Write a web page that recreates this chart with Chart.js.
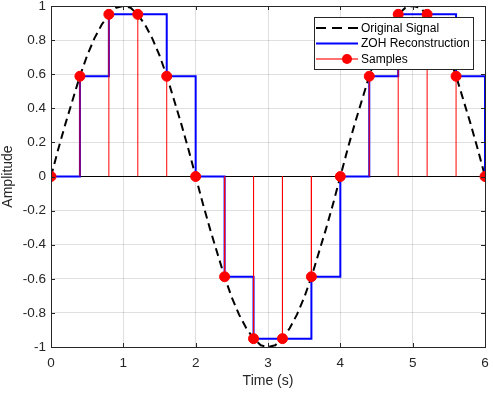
<!DOCTYPE html>
<html>
<head>
<meta charset="utf-8">
<script src="https://cdn.jsdelivr.net/npm/chart.js@4/dist/chart.umd.min.js"></script>
<style>
  html, body { margin: 0; padding: 0; background: #fff; }
  #wrap { position: relative; width: 493px; height: 393px; }
</style>
</head>
<body>
<div id="wrap"><canvas id="zohChart" width="493" height="393"></canvas></div>
<script>
// Continuous signal, every 0.1 s
const signalTimes = [
  0.0, 0.1, 0.2, 0.3, 0.4, 0.5, 0.6, 0.7, 0.8, 0.9,
  1.0, 1.1, 1.2, 1.3, 1.4, 1.5, 1.6, 1.7, 1.8, 1.9,
  2.0, 2.1, 2.2, 2.3, 2.4, 2.5, 2.6, 2.7, 2.8, 2.9,
  3.0, 3.1, 3.2, 3.3, 3.4, 3.5, 3.6, 3.7, 3.8, 3.9,
  4.0, 4.1, 4.2, 4.3, 4.4, 4.5, 4.6, 4.7, 4.8, 4.9,
  5.0, 5.1, 5.2, 5.3, 5.4, 5.5, 5.6, 5.7, 5.8, 5.9, 6.0
];
const signalValues = [
  0, 0.16, 0.31, 0.45, 0.59, 0.71, 0.81, 0.89, 0.95, 0.99,
  1, 0.99, 0.95, 0.89, 0.81, 0.71, 0.59, 0.45, 0.31, 0.16,
  0, -0.16, -0.31, -0.45, -0.59, -0.71, -0.81, -0.89, -0.95, -0.99,
  -1, -0.99, -0.95, -0.89, -0.81, -0.71, -0.59, -0.45, -0.31, -0.16,
  0, 0.16, 0.31, 0.45, 0.59, 0.71, 0.81, 0.89, 0.95, 0.99,
  1, 0.99, 0.95, 0.89, 0.81, 0.71, 0.59, 0.45, 0.31, 0.16, 0
];

// Samples (red stems / dots), also used for the ZOH stairs
const sampleTimes  = [0, 0.4, 0.8, 1.2, 1.6, 2.0, 2.4, 2.8, 3.2, 3.6, 4.0, 4.4, 4.8, 5.2, 5.6, 6.0];
const sampleValues = [0, 0.588, 0.951, 0.951, 0.588, 0, -0.588, -0.951, -0.951, -0.588, 0, 0.588, 0.951, 0.951, 0.588, 0];

const xTicks = [0, 1, 2, 3, 4, 5, 6];
const yTicks = [-1, -0.8, -0.6, -0.4, -0.2, 0, 0.2, 0.4, 0.6, 0.8, 1];
const seriesNames = ['Original Signal', 'ZOH Reconstruction', 'Samples'];

const AXIS_COLOR = '#262626';
const FONT = '"Liberation Sans", Arial, Helvetica, sans-serif';

const signalPoints = signalTimes.map((t, i) => ({ x: t, y: signalValues[i] }));
const samplePoints = sampleTimes.map((t, i) => ({ x: t, y: sampleValues[i] }));
const stemPoints = [];
sampleTimes.forEach((t, i) => {
  stemPoints.push({ x: t, y: 0 }, { x: t, y: sampleValues[i] }, { x: t, y: null });
});

// Box, inward tick marks and the MATLAB-style legend
const matlabFrame = {
  id: 'matlabFrame',
  afterDatasetsDraw(chart) {
    const ctx = chart.ctx;
    const a = chart.chartArea;
    const xs = chart.scales.x, ys = chart.scales.y;
    ctx.save();
    ctx.strokeStyle = AXIS_COLOR;
    ctx.lineWidth = 1;
    ctx.beginPath();
    xTicks.forEach(v => {
      const px = Math.round(xs.getPixelForValue(v)) + 0.5;
      ctx.moveTo(px, a.bottom); ctx.lineTo(px, a.bottom - 4);
      ctx.moveTo(px, a.top); ctx.lineTo(px, a.top + 4);
    });
    yTicks.forEach(v => {
      const py = Math.round(ys.getPixelForValue(v)) + 0.5;
      ctx.moveTo(a.left, py); ctx.lineTo(a.left + 4, py);
      ctx.moveTo(a.right, py); ctx.lineTo(a.right - 4, py);
    });
    ctx.stroke();
    ctx.strokeRect(Math.round(a.left) + 0.5, Math.round(a.top) + 0.5,
                   Math.round(a.right - a.left), Math.round(a.bottom - a.top));

    // legend
    const lx = a.right - 171, ly = a.top + 11, lw = 159, lh = 52;
    ctx.fillStyle = '#fff';
    ctx.fillRect(lx, ly, lw, lh);
    ctx.strokeStyle = AXIS_COLOR;
    ctx.strokeRect(lx + 0.5, ly + 0.5, lw, lh);
    const rows = [ly + 11, ly + 26.5, ly + 42];
    const x1 = lx + 2, x2 = lx + 44;
    ctx.lineWidth = 2;
    // original signal
    ctx.strokeStyle = '#000';
    ctx.setLineDash([10, 6]);
    ctx.beginPath(); ctx.moveTo(x1, rows[0]); ctx.lineTo(x2, rows[0]); ctx.stroke();
    ctx.setLineDash([]);
    // zoh
    ctx.strokeStyle = '#0000ff';
    ctx.beginPath(); ctx.moveTo(x1, rows[1]); ctx.lineTo(x2, rows[1]); ctx.stroke();
    // samples
    ctx.strokeStyle = '#ff7070';
    ctx.beginPath(); ctx.moveTo(x1, rows[2]); ctx.lineTo(x2, rows[2]); ctx.stroke();
    ctx.fillStyle = '#ff0000';
    ctx.beginPath(); ctx.arc(lx + 33, rows[2], 5, 0, Math.PI * 2); ctx.fill();
    // text
    ctx.fillStyle = '#000';
    ctx.font = '12px ' + FONT;
    ctx.textBaseline = 'middle';
    ctx.textAlign = 'left';
    seriesNames.forEach((name, i) => ctx.fillText(name, lx + 47, rows[i] + 0.5));
    ctx.restore();
  }
};

new Chart(document.getElementById('zohChart'), {
  type: 'line',
  data: {
    datasets: [
      {
        label: seriesNames[2],
        data: samplePoints,
        showLine: false,
        pointRadius: 5,
        pointHoverRadius: 5,
        pointBackgroundColor: '#ff0000',
        pointBorderColor: '#ff0000',
        pointBorderWidth: 1,
        order: 0
      },
      {
        label: 'stems',
        data: stemPoints,
        borderColor: '#ff0000',
        borderWidth: 1,
        pointRadius: 0,
        spanGaps: false,
        order: 1
      },
      {
        label: seriesNames[1],
        data: samplePoints,
        stepped: 'before',
        borderColor: '#0000ff',
        borderWidth: 2,
        pointRadius: 0,
        order: 2
      },
      {
        label: seriesNames[0],
        data: signalPoints,
        borderColor: '#000000',
        borderWidth: 2,
        borderDash: [8, 5],
        pointRadius: 0,
        tension: 0,
        order: 3
      }
    ]
  },
  options: {
    responsive: false,
    animation: false,
    events: [],
    layout: { padding: { top: 5, right: 8, left: 0, bottom: 0 } },
    plugins: {
      legend: { display: false },
      tooltip: { enabled: false }
    },
    scales: {
      x: {
        type: 'linear',
        min: 0,
        max: 6,
        afterBuildTicks: scale => { scale.ticks = xTicks.map(v => ({ value: v })); },
        afterFit: scale => {
          scale.height = 46;
          scale.paddingLeft = 0;
          scale.paddingRight = 0;
        },
        grid: { color: 'rgba(38,38,38,0.15)', drawTicks: false },
        border: { display: false },
        ticks: { color: AXIS_COLOR, padding: 8, font: { family: FONT, size: 13.5 } },
        title: {
          display: true,
          text: 'Time (s)',
          color: AXIS_COLOR,
          font: { family: FONT, size: 14 },
          padding: { top: 0, bottom: 3 }
        }
      },
      y: {
        type: 'linear',
        min: -1,
        max: 1,
        afterBuildTicks: scale => { scale.ticks = yTicks.map(v => ({ value: v })); },
        afterFit: scale => {
          scale.width = 51;
          scale.paddingTop = 0;
          scale.paddingBottom = 0;
        },
        grid: {
          color: ctx => (ctx.tick && ctx.tick.value === 0) ? '#000000' : 'rgba(38,38,38,0.15)',
          drawTicks: false
        },
        border: { display: false },
        ticks: {
          color: AXIS_COLOR,
          padding: 5,
          font: { family: FONT, size: 13.5 },
          callback: v => String(v)
        },
        title: {
          display: true,
          text: 'Amplitude',
          color: AXIS_COLOR,
          font: { family: FONT, size: 14 },
          padding: { top: 0, bottom: 0 }
        }
      }
    }
  },
  plugins: [matlabFrame]
});
</script>
</body>
</html>
